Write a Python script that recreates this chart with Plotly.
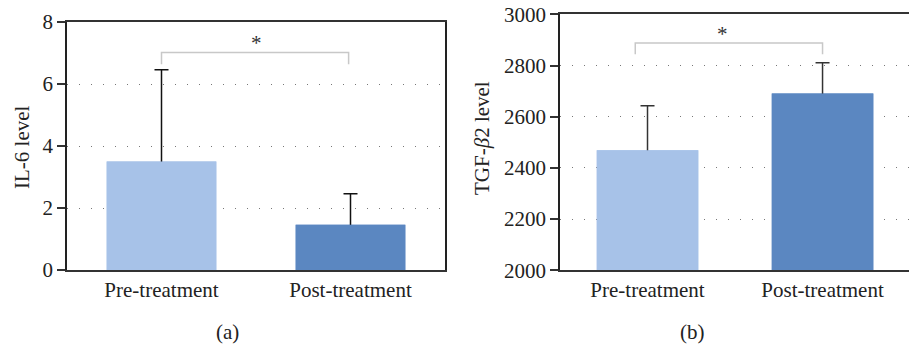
import plotly.graph_objects as go

categories = ["Pre-treatment", "Post-treatment"]
il6_mean = [3.5, 1.46]
il6_err = [2.96, 1.0]
tgf_mean = [2469, 2691]
tgf_err = [174, 120]
il6_ticks = [0, 2, 4, 6, 8]
tgf_ticks = [2000, 2200, 2400, 2600, 2800, 3000]
bar_colors = ["#A7C2E8", "#5B87C1"]
# significance bracket: [x_left, x_right, y_top, y_end, star_x, star_y]
il6_bracket = [0.0, 0.99, 7.02, 6.64, 0.5, 7.33]
tgf_bracket = [-0.07, 1.0, 2888, 2844, 0.43, 2923]

FONT = "Liberation Serif"
FS = 21
W, H = 909, 347

def px_x(a, b):
    return [a / W, min(b / W, 1.0)]

def px_y(top, bottom):
    return [(H - bottom) / H, (H - top) / H]

fig = go.Figure()
for means, errs, xa, ya, ecol in [(il6_mean, il6_err, "x", "y", "#111111"),
                                  (tgf_mean, tgf_err, "x2", "y2", "#333333")]:
    # bar with (symmetric) error bar; lower half hidden by the overlaid bar below
    fig.add_trace(go.Bar(x=categories, y=means, marker_color=bar_colors, marker_line_width=0,
                         error_y=dict(type="data", array=errs, color=ecol, thickness=1.5, width=7),
                         xaxis=xa, yaxis=ya, showlegend=False, hoverinfo="skip"))
    fig.add_trace(go.Bar(x=categories, y=means, marker_color=bar_colors, marker_line_width=0,
                         xaxis=xa, yaxis=ya, showlegend=False))

common_x = dict(showline=True, linecolor="#333333", linewidth=1.5, ticks="", automargin=False,
                showgrid=False, tickfont=dict(family=FONT, size=FS, color="#222222"),
                fixedrange=True)
common_y = dict(showline=True, linecolor="#222222", linewidth=1.5, ticks="outside", ticklen=8,
                tickwidth=1.5, tickcolor="#333333", automargin=False,
                showgrid=True, gridcolor="#777777", gridwidth=1, griddash="1px,11px",
                tickfont=dict(family=FONT, size=FS, color="#222222"), zeroline=False)

fig.update_layout(
    width=W, height=H, margin=dict(l=0, r=0, t=0, b=0, pad=0),
    plot_bgcolor="white", paper_bgcolor="white", bargap=0.42, barmode="overlay",
    xaxis=dict(domain=px_x(67, 445), anchor="y", mirror=True, range=[-0.5, 1.5], **common_x),
    yaxis=dict(domain=px_y(22, 270), anchor="x", range=[0, 8], tickvals=il6_ticks, mirror=True,
               **common_y),
    xaxis2=dict(domain=px_x(560, 909), anchor="y2", mirror=True, range=[-0.5, 1.494], **common_x),
    yaxis2=dict(domain=px_y(14.3, 270.3), anchor="x2", range=[2000, 3000], tickvals=tgf_ticks, mirror=False,
                **common_y),
)

for xr, yr, b in [("x", "y", il6_bracket), ("x2", "y2", tgf_bracket)]:
    xl, xrt, yt, ye, sx, sy = b
    fig.add_shape(type="path", xref=xr, yref=yr,
                  path=f"M {xl},{ye} L {xl},{yt} L {xrt},{yt} L {xrt},{ye}",
                  line=dict(color="#C8C8C8", width=1.5))
    fig.add_annotation(x=sx, y=sy, xref=xr, yref=yr, text="*", showarrow=False,
                       font=dict(family=FONT, size=FS, color="#333333"))

txt = dict(showarrow=False, xref="paper", yref="paper", xanchor="center", yanchor="middle",
           font=dict(family=FONT, size=FS, color="#222222"))
fig.add_annotation(x=22 / W, y=(H - 147) / H, text="IL-6 level", textangle=-90, **txt)
fig.add_annotation(x=482 / W, y=(H - 138) / H, text="TGF-<i>β</i>2 level", textangle=-90, **txt)
fig.add_annotation(x=228 / W, y=(H - 332) / H, text="(a)", **txt)
fig.add_annotation(x=692 / W, y=(H - 332) / H, text="(b)", **txt)

fig.write_html("out.html")
